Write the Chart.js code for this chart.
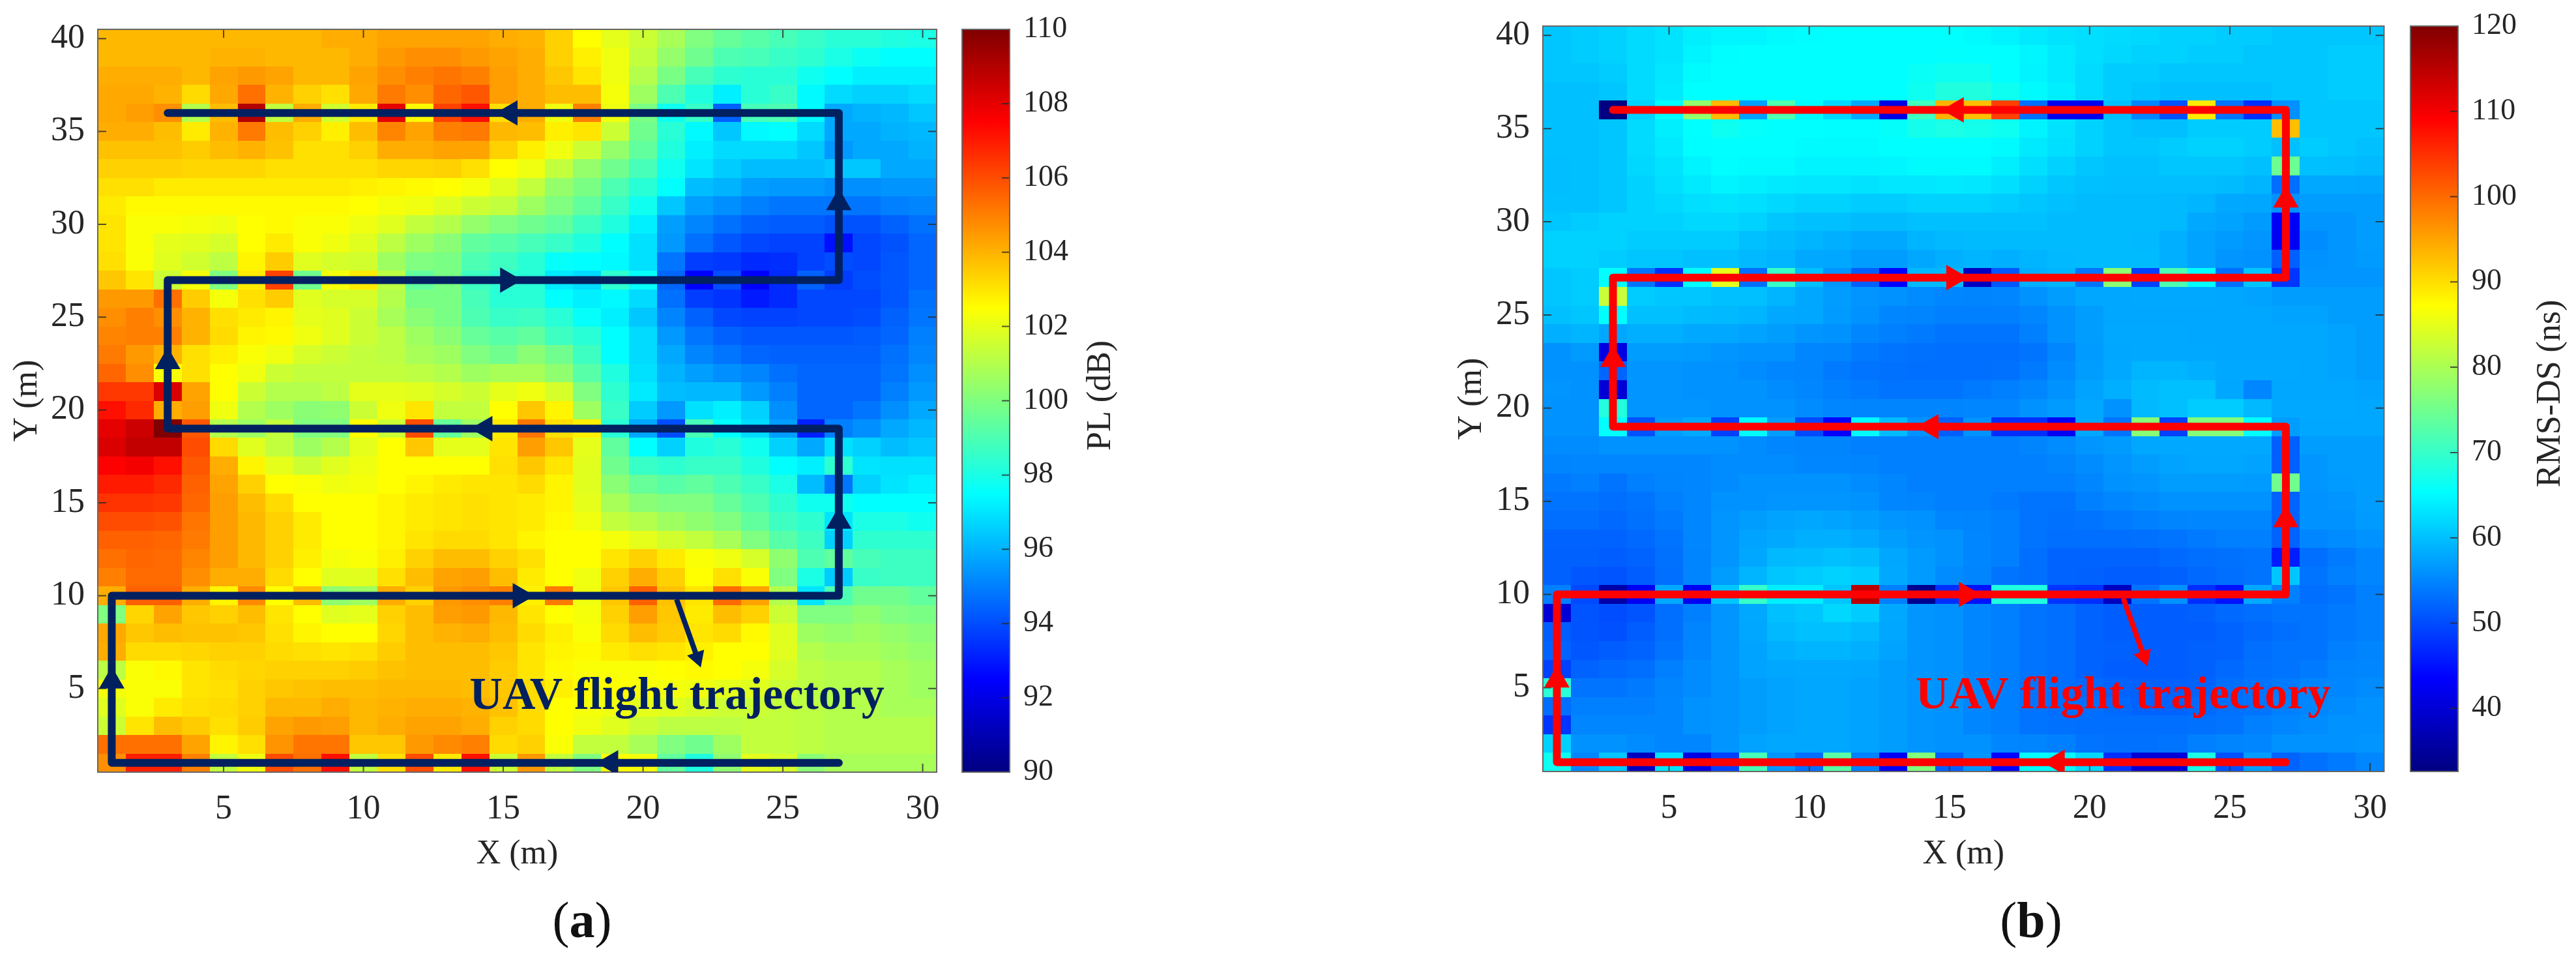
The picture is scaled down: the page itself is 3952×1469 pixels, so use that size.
<!DOCTYPE html>
<html>
<head>
<meta charset="utf-8">
<title>UAV flight trajectory maps</title>
<script src="https://cdn.jsdelivr.net/npm/chart.js@4"></script>
<style>
    html, body { margin: 0; padding: 0; background: #fff; overflow: hidden; }
    body { width: 3952px; height: 1469px; position: relative; }
    canvas { position: absolute; top: 0; }
    .tag { position: absolute; top: 1372px; font: 78px "Liberation Serif", serif; line-height: 1; color: #111; transform: translateX(-50%); }
</style>
</head>
<body>
<canvas id="heatA" width="1460" height="1469" style="left:0"></canvas>
<canvas id="barA" width="300" height="1469" style="left:1465px"></canvas>
<canvas id="heatB" width="1480" height="1469" style="left:2200px"></canvas>
<canvas id="barB" width="264" height="1469" style="left:3688px"></canvas>
<div class="tag" style="left:893px">(<b>a</b>)</div>
<div class="tag" style="left:3116px">(<b>b</b>)</div>
<script>
const xTicks = [5, 10, 15, 20, 25, 30];
const yTicks = [5, 10, 15, 20, 25, 30, 35, 40];
const plTicks = [90, 92, 94, 96, 98, 100, 102, 104, 106, 108, 110];
const dsTicks = [40, 50, 60, 70, 80, 90, 100, 110, 120];

// flight path and direction arrows, same for both maps
const pathX = [27, 1, 1, 27, 27, 3, 3, 27, 27, 3];
const pathY = [1, 1, 10, 10, 19, 19, 27, 27, 36, 36];
const arrowX = [18.85, 1, 15.6, 27, 14.35, 3, 15.15, 27, 15.25];
const arrowY = [1, 5.4, 10, 14, 19, 22.6, 27, 31.16, 36];
const arrowAngle = [270, 0, 90, 0, 270, 0, 90, 0, 270];
const pointerX = [21.2, 21.94];
const pointerY = [9.8, 6.67];

// Path loss (dB), first row is Y=40, last row is Y=1, columns X=1..30
const plRows = [
[103.9,103.9,103.9,103.9,103.9,103.9,103.9,103.9,104.1,104.1,104.3,104.3,104.3,104.3,104.1,104,103.4,102.5,102,101.5,100.8,100,99.5,99.2,98.9,98.6,98.3,98.3,98.1,98],
[103.9,103.9,103.9,103.9,104,104,103.9,103.9,103.9,104.1,104.5,104.7,104.7,104.5,104.3,104.1,103.4,102.8,102.2,101.3,100.4,99.7,99,98.9,98.6,98.4,98,97.7,97.5,97.5],
[104.1,104.1,104.1,103.9,104.3,104.5,104.3,103.9,103.9,104.3,104.7,105,105.2,105,104.4,104.1,103.6,103,102.2,101,99.9,98.9,98.4,98.3,98.3,97.8,97.5,97.2,97.2,97.2],
[104.2,104.2,104,103.2,104.2,105.3,104,103.4,103.1,104.2,105.1,104.7,105.5,105.8,104.4,104.1,103.8,103.8,102.3,100.6,99,98.1,97.2,98.3,98.6,97.4,96.8,96.6,96.6,96.8],
[104.2,104.4,104.7,101,103.8,109,101.3,104.1,101.6,102.9,108,102.6,106.2,107.2,103.1,104.1,102.2,105,102.2,99.9,97.8,98.6,94.4,98.9,99,97.4,95.8,96,96.1,96.4],
[104.1,104.1,103.8,102.9,104,105.1,103.8,103.4,102.8,103.8,104.9,104.3,105,105.1,103.9,103.8,102.8,103,101.5,99.7,98.3,97.4,96.4,97.4,97.5,96.8,95.8,95.8,96,96.1],
[103.7,103.7,103.7,103.5,103.8,104,103.7,103.1,103.1,103.4,104.1,104.1,104.3,104.3,103.4,102.8,102.2,101.5,100.4,99.4,98.1,97.2,96.8,96.8,96.8,96.4,95.5,95.8,95.8,96],
[103.4,103.4,103.4,103.3,103.3,103.3,103.1,103.1,103.1,103.1,103.3,103.3,103.4,103.1,102.5,102.2,101.3,100.4,99.7,98.9,97.8,97,96.5,96.2,96.2,96.2,96.4,96.4,95.8,95.8],
[103.1,103.1,102.9,102.9,102.9,102.9,102.9,102.9,102.9,102.8,102.7,102.6,102.5,102.3,101.9,101.3,100.4,99.9,99,98.3,97.5,96.2,96,95.6,95.5,95.5,95.3,95.3,95.4,95.4],
[102.9,102.6,102.6,102.6,102.6,102.6,102.6,102.6,102.6,102.5,102.3,102.2,101.9,101.5,101.3,100.6,100,99.4,98.6,97.8,96.4,95.6,95.3,95,94.8,94.8,94.8,94.8,95,95.1],
[103,102.4,102.4,102.3,102.2,102.5,102.6,102.4,102.4,102.2,101.9,101.3,101,100.4,100,99.7,99.4,98.7,98.1,97.2,95.6,95.1,94.7,94.4,94.3,94.3,94.1,94.1,94.4,94.7],
[103,102.4,102,101.9,101.7,102.5,102.9,102.4,102.2,101.9,101.2,100.6,100.2,99.4,99.2,98.9,98.6,98.1,97.5,96.9,95.5,94.7,94.2,93.9,93.8,93.8,92.8,93.9,94.1,94.5],
[103.1,102.4,101.9,101.6,101.2,102.7,103.5,101.9,101.7,101.6,100.6,100,99.9,99,98.7,98.3,97.6,97.5,97.4,96.9,94.8,93.7,93.6,93.3,93.4,93.8,94,93.9,94.2,94.5],
[103.6,103,101.5,102.3,100,102.9,106.2,99.7,102.3,102.9,101.2,99.4,99.9,98.7,98.4,98.3,97.1,96.8,98.4,97.6,94.5,92.5,94,92.5,93.3,94.4,93.7,94,94.2,94.5],
[104.5,104.5,105.3,103.5,102.3,103.1,103.5,101.9,101.7,101.7,101,99.9,99.9,98.9,98.3,98.3,97.5,97.2,97.4,96.8,94.7,93.7,93.5,93,93.3,93.9,93.9,93.9,94.2,94.7],
[104.7,105,104.7,104,103.1,102.9,102.7,102,101.9,101.5,100.8,100.2,99.9,99,98.6,98.7,98.3,97.6,97.2,96.4,95.1,94.4,93.9,93.8,93.8,93.9,93.9,94,94.4,94.8],
[104.9,105,105,104,103.2,102.7,102.6,102.2,101.9,101.5,101.2,100.6,100.2,99.5,99.2,99.4,98.7,98.3,97.5,96.8,95.5,94.8,94.4,94.2,94.2,94.2,94.2,94.3,94.5,95],
[105.1,104.5,104,103.1,102.8,102.4,102.2,101.7,101.5,101.3,101.2,100.8,100.6,100,99.7,100.2,99.7,98.7,97.5,96.8,95.8,95.1,94.8,94.5,94.4,94.4,94.4,94.4,94.7,95.1],
[105.5,104.7,102.4,103.1,102.5,102.2,101.5,101.3,101.3,101.3,101.3,101.2,101,100.6,100.8,100.8,100.3,99.2,98.1,96.9,96,95.6,95.3,95.1,94.7,94.5,94.5,94.5,94.8,95.3],
[106.4,106.4,108.2,104.3,102.5,101.5,101,101,101.2,102,102,101.9,101.7,101.5,102,102.2,101.7,100,98.4,97.1,96.2,96.1,96.1,95.5,95,94.5,94.5,94.5,95,95.5],
[107.2,106.7,104.1,104.4,102.2,101,100.6,100.2,100.3,101.5,102.2,103,101.3,101.3,102.5,103.6,102.7,100.6,98.6,96.5,95.5,96.9,97.2,96.6,95.3,94.5,94.5,94.8,95.3,95.8],
[108,108.5,110,105.8,101,100.6,101.3,100,100,102.5,101.5,106,99.5,100.6,102.9,105.2,103.1,102.8,98.3,95.8,94,98.9,97.5,96.8,95.6,93.1,95,95.3,95.8,96.1],
[108.2,108.7,108.7,106,103.2,101.9,101.3,100.6,101,102,102.5,103.6,102,102,103,104.4,103.6,102,99.4,97.5,96.6,98.1,98.3,97.8,96.6,95.8,96.9,96.6,96.2,96.4],
[107.5,107.7,107.2,105.8,104.1,102.7,102,101.5,101.9,102.2,102.5,102.5,102.5,102.5,103.1,103.6,103,101.9,99.7,98.6,98.4,98.6,98.6,98.1,97.5,97.2,98.4,97,96.9,96.9],
[107,107,106.7,105.6,104.3,103.4,102.5,102.4,102.2,102.3,102.5,102.7,102.9,103,103,103.2,102.7,101.9,100.2,99.5,99.2,99.4,99,98.6,98,96.2,94.8,96.6,97,97.2],
[106.5,106.5,106.4,105.5,104.4,103.8,103.2,102.5,102.5,102.5,102.7,102.9,103,103.1,103,102.9,102.7,102,100.8,100.2,100,100,99.5,99,98.4,97.8,97.8,97.5,97.5,97.5],
[106,106,105.9,105.2,104.4,103.9,103.4,102.9,102.5,102.5,102.7,102.9,103,103.1,103,102.9,102.6,102.2,101.3,101,100.6,100.3,100,99.4,98.7,98.4,97,98,98,97.8],
[105.6,105.6,105.5,105.1,104.4,103.9,103.4,102.9,102.5,102.5,102.7,103,103.2,103.2,103,102.7,102.5,102.5,102.3,102,101.6,101.3,100.8,100,99.2,98.7,96.6,98.4,98.4,98.4],
[105.3,105.5,105.4,104.9,104.4,103.9,103.4,102.8,102.3,102.4,102.8,103.4,103.8,103.8,103.4,103.1,102.5,102.5,103,103.4,102.9,102.4,102.2,101.7,100.3,99,99.4,98.9,98.7,98.7],
[105,105.4,105.4,104.7,104.1,104.1,103.2,102.5,101.9,101.9,103.1,103.8,104.3,104.4,103.8,102.9,102.5,102.2,103.4,104.1,103.4,102.5,103.1,102.4,100,98,96.5,98.6,98.7,98.7],
[104.1,105.6,105.6,104.1,102.7,104.8,102.5,103.8,100.3,100.6,104.1,103.4,104.5,104.7,105,102.8,105.1,102.2,103.6,105.6,103.7,103,105.4,104.3,101,97,99,99.7,99.7,99.4],
[100,103.3,104.3,103.6,103.4,103.8,103,102.5,101.9,102,103.4,103.8,104.4,104.5,103.9,103,102.5,102.3,103.4,104.4,103.6,102.9,103.8,103.4,101.5,100,100,100.3,100,99.9],
[104.2,103.6,103.8,103.7,103.7,103.6,103.1,102.7,102.5,102.5,103.3,103.8,104,104.1,103.8,103.2,102.8,102.4,103.2,103.8,103.5,103,103.2,102.6,101.9,100.6,100.4,100.6,100.4,100.2],
[104.1,103.2,103.2,103.3,103.4,103.4,103.2,103.1,103,103.1,103.5,103.8,103.8,103.8,103.6,103,102.7,102.6,102.9,103.1,103,102.8,102.5,102.5,101.9,101,100.8,100.8,100.6,100.4],
[101.2,102.4,102.6,103,103.2,103.3,103.4,103.4,103.4,103.5,103.7,103.8,103.8,103.8,103.5,103,102.6,102.4,102.4,102.4,102.5,102.6,102.5,102.3,101.7,101.2,101,101,100.8,100.6],
[102.3,102.4,102.4,103,103.1,103.4,103.6,103.7,103.8,103.8,103.9,103.9,103.9,103.8,103.6,103.2,102.8,102.6,102.5,102.4,102.3,102.2,102,101.9,101.5,101.2,101,101,100.8,100.6],
[101.9,102.4,102.9,103.1,103.2,103.4,103.9,103.9,104.1,103.9,104,104.1,104.1,104,103.7,103.2,102.5,102.3,102.2,102,101.9,101.7,101.5,101.5,101.3,101.2,101,101,100.8,100.8],
[101.5,103,103.8,103.5,103.1,103.5,104.3,104.5,104.4,103.9,104.1,104.3,104.3,104.1,103.4,103.2,102.5,102.2,101.9,101.5,101.2,101.2,101.2,101.3,101.3,101.2,101,101,101,101],
[105.3,105.3,105.3,104.3,102.7,103.1,104.6,105.2,105.2,103.6,103.6,104.5,104.8,105,103.2,103.4,102.4,101.3,101.3,100.8,100,99.7,100.6,101.3,101.3,101.2,101,101,101,101],
[104.7,106.9,106.9,105,101.3,102.2,106,105.3,107.2,101.3,103.1,106,102.9,107.2,101.5,104.5,101.3,100,102.5,102.3,99.4,98.1,100.3,102,101.7,100.2,100.8,100.8,100.8,100.8]
];

// RMS delay spread (ns), same layout as plRows
const dsRows = [
[60.5,61,61.5,62.3,63,64,64.6,64.6,65,65.2,65.4,65.4,65.4,65.4,65.4,65,64.4,63.6,63,62.6,62.3,62,61.5,61.5,61,61,60.5,60.5,60.5,60.5],
[60.5,61,61.5,62.3,63,64.4,65.2,65.4,65.4,65.4,65.4,65.4,65.4,65.4,65.5,65.4,65.4,64.6,63.6,62.6,62,61.5,61.5,61,61,60.5,60.5,60.5,61,61],
[60.5,60.5,61,62.3,63.3,65,65.4,65.4,65.4,65.4,65.4,65.4,65.4,66,66.5,66.5,65.4,64.4,63.6,62.3,61,61,60.5,60.5,60.5,60.5,60.5,60.5,61,61],
[60,60,60.5,62.3,63.6,65.4,65.4,65.4,65.4,65.4,65.4,65.4,65.4,66.5,68,68,66.5,65,64,62.3,61,60.5,60,60,60,60,60.5,60.5,61,61],
[60,60,32.6,61.5,65.4,78,93.2,57.2,72.2,65,62,58,41,70.9,93.7,92.7,103.6,53,42,42,60,55,50.5,89,53.5,47.5,55.9,60.5,60.5,60.5],
[60,60,60.5,62.3,64,65.4,66.5,65.8,65.4,65.4,65.2,65.2,65.7,67,67.6,67,66.5,64.4,63,61.5,60.5,60,60,61,61,61,92.7,60.5,60.5,60.5],
[60,60,60.5,62.3,63.6,65.2,65.4,65.4,65.4,65,65,65,65.4,65.4,65.4,65.4,65,63.6,62.6,61.5,60.5,60.5,61,61.5,61.5,61,60,61,60.5,60],
[59.8,60,60.5,62,63,64.4,65.2,65,65,64.4,64.4,64.4,64.6,65,65,65,64,62.6,61.5,60.5,60,60,60.5,60.5,60.5,60,74.6,60,59.8,59.4],
[59.8,60,60.5,61.5,62.6,63.6,64.4,64,63.6,63.3,63.3,63,63.3,63.3,63.6,63.3,62.6,61.5,60.5,60,59.8,59.8,59.8,59.8,59.6,59,53,58,58,57.8],
[60,60,60.5,61.5,62,62.6,63,62.6,62,61.5,61.5,61,61,61.5,61.5,61.5,61,60.5,60,59.6,59.6,59.6,59.4,59,58,57.8,56,57,57,57],
[60.5,61,61.5,61.5,61.5,62,62,61.5,60.5,60,60,59.6,59.6,60,60,60,60,60,59.6,59.6,59.6,59.6,59.4,58,57.5,56.8,43,56.3,56.3,57],
[61.5,61.5,61.5,61,61,61,61,60,59.6,59,58.5,58,58,59,59.4,59.6,59.6,59.6,59.6,59.6,59.6,59.4,58.5,57.5,56.8,56.3,42.5,55.5,56.3,57],
[61.5,61.5,61,60.5,60.5,60,60,59.4,59,58,57.8,57,57,57.8,58.5,59,58.5,59,59.4,59.6,59.6,59.6,58.5,57.5,56.3,56,51.7,56,56.3,56.8],
[60.5,61,65.4,53.5,47.5,65.4,85,53,70.2,60,56.3,51.7,43.5,59.4,59.4,38,51,58.5,59,53.5,77.5,49,72,65.4,53,60.5,48,56.3,56.3,56.3],
[60.5,61,82.5,61,60.5,60.5,60,60,59,57.8,57,56.3,56,55.5,55,54.9,55,56,57,57.8,57.8,58,58,58,57.8,57.5,57,57,57,57],
[60,60.5,65.4,60,60,59.6,59.4,59,58,57.8,56.8,56,55,54.9,54.5,54.5,54.5,55,56,57,57.8,57.8,57.8,57.8,57.8,57.8,57.5,57.5,57,57],
[58.5,59,57.8,58.5,58.5,58,58,57.5,57,56.3,56,55,54.5,54,53.5,53.5,53.5,54.5,56,57,58,58,58,57.8,57.8,57.8,57.8,57.8,57.5,57],
[56,56.8,41,57,57,56.8,56.3,56,56,55,54.9,54,53.5,53.2,53,53,53,53.5,55,56.8,57.8,58,58,58,57.8,57.8,57.8,57.8,57.5,57],
[56,56,52.2,56.3,56.3,56,56,55.5,55,54.9,54,53.5,53.2,53,53,53,53.2,54,55.5,57,58,59,59,58.5,58,58,58,57.8,57.5,57],
[56.3,56,40,56.3,56.3,56,56,56,55.5,55,54.5,54,53.5,53.5,53.5,54,54.5,55,56,57.5,58.5,59.6,60,60,57.8,55,57.8,57.8,57.8,57.5],
[56,56,68.3,56.3,56.3,56.3,56,56,56,55.5,55,54.9,54.9,54.9,54.9,55,55,56,56.8,57.8,56,59.4,60,61,61,59.4,58,58,58,57.8],
[56,56,65.4,50.5,57,58,49,65,57,49.8,43.5,65,59.6,56,51.7,56,47.5,47.5,42.5,57.8,53.5,77,49,76.8,76.8,65.4,57,57.8,57.8,57.8],
[55.5,55.5,56,56,56,56,56,55.5,55,54.9,54.9,54.5,54.5,54.5,54.5,54.5,54.5,54.9,55.5,56.3,56.8,57.8,58,58,58,58,51.7,57,57,57],
[54.9,55,55,55,55,55,55.5,55.5,55.5,55,55,54.9,54.5,54.5,54.5,54.5,54.5,54.5,54.9,55.5,56.3,57,57.5,57.8,57.8,57.5,51.7,56.3,57,57],
[54,54.5,53.5,54.5,54.9,55,55.5,56,56,56,56,55.5,55,54.5,54.5,54.5,54.5,54.5,54.5,55,56,56.3,57,57,57,56.8,75,56.3,56.8,57],
[53.5,53.5,53,53.5,54.5,55,56,56,56.3,56.3,56.3,56,55,54.9,54.5,54.5,54,53.5,53.5,54.5,55,55.5,56,56,56,56,52,56,56.3,57],
[53,53,52.5,53.2,54,55,56.3,57,57.5,57.8,57.5,57,56.3,56,55,54.9,54.5,53.5,53.2,53.5,54,54.5,54.9,55,55,55,52,56,56,56.8],
[52,52,52,52.5,53.5,55,56.3,57.5,58,58.5,58.5,58,57,56.3,56,55,54.5,53.5,53,53,53,53.2,53.5,54,54.5,54.5,52,55,55.5,56],
[51.8,51.8,51.5,52,53.2,54.9,56.3,57.8,59.4,59.6,60,59.6,57.8,56.8,56,55,54.5,53,52,52,52,52,52.5,53,53.2,53.5,46,53,54,55],
[51.8,51,50.7,51.5,53,54.9,57,59,60.5,61,61.5,61,58,56.8,55.5,54.9,53.5,53,52,51.8,51.5,51.5,51.8,52.5,53,53.5,60.5,53.5,54.5,55],
[54.5,49.8,36,42.5,58,42.5,60.5,70,64,64,60.5,115,54.5,34,47.5,45,68,68,48,47.5,38,53.5,56,47.5,45,58,54.5,53,53.5,54.5],
[40,50.7,50,50.7,53,54.5,56.3,58,60,60.5,62,61,58,56.3,56,55,54.5,53.5,53,52,51.5,51.5,51.5,51.8,52.5,53,53.5,53.5,54,54.5],
[51.5,50.7,50.4,51.5,53,54.9,56.3,57.8,59.4,60,60,59.4,57.8,56.3,56,55,54.5,53.5,53,52,51.5,51.5,51.5,51.5,52,52.5,53,53.5,54,54.5],
[52,51,51.5,52,53.5,55,56.3,57.5,58.5,59,59,58.5,57.5,56.3,56,55,54.5,53.5,53,52,51.8,51.5,51.5,51.8,52,53,53.5,53.5,54.5,54.9],
[49,52,52.5,53,54.5,55.5,56.3,57.5,57.8,58,58,57.8,57,56.3,56,55,54.5,53.5,53,52,51.5,51.5,51.5,51.8,52.5,53.2,53.5,54,54.9,55],
[69,53.5,53.5,54,54.9,55.5,56.3,57,57.5,57.8,57.8,57.5,57,56.3,56,55,54.5,53.5,53,52.5,52,51.8,51.8,52,53,53.5,54,54.9,55,55.5],
[53,54.5,54.5,54.5,55,56,56.3,57,57.5,57.8,57.8,57.5,57,56.3,56,55,54.5,53.5,53,53,52.5,52,52,52.5,53.2,53.5,54.5,55,55.5,56],
[48,55,55,55,55,56,56.3,57,57.5,57.8,57.8,57.5,57,56.3,56,55,54.5,53.5,53.2,53,53,53,53,53.2,53.5,54.5,55,55.5,56,56],
[61.5,56,56,55.5,55,55,56.3,57.5,57.8,57.8,57.8,57.5,57,56.3,56,56,55,54.9,54.5,53.5,53.2,53.2,53.5,54.5,54.9,55,56,56,56,56.3],
[66.5,55,60.5,38,63,41,49,71.5,56.3,53,73,54.5,42.5,76.5,51.7,56.3,43.5,65.4,65,62,47.5,40,40,67.6,50.5,57,52,53.2,54,55]
];

const FONT = '"Liberation Serif", serif';
const JET_STOPS = [[0, 0, 0, 128], [0.125, 0, 0, 255], [0.375, 0, 255, 255], [0.625, 255, 255, 0], [0.875, 255, 0, 0], [1, 128, 0, 0]];

// Same colour ramp as MATLAB jet
function jetColor(t) {
    t = Math.min(1, Math.max(0, t));
    for (let i = 1; i < JET_STOPS.length; i++) {
        let a = JET_STOPS[i - 1], b = JET_STOPS[i];
        if (t <= b[0]) {
            let f = (t - a[0]) / (b[0] - a[0]);
            return `rgb(${Math.round(a[1] + (b[1] - a[1]) * f)},${Math.round(a[2] + (b[2] - a[2]) * f)},${Math.round(a[3] + (b[3] - a[3]) * f)})`;
        }
    }
    return "rgb(128,0,0)";
}

function gridPoints(rows) {
    let points = [];
    rows.forEach((row, r) => row.forEach((v, c) => points.push({ x: c + 1, y: rows.length - r, v: v })));
    return points;
}

function drawFrame(ctx, area) {
    ctx.strokeStyle = "#666666";
    ctx.lineWidth = 2;
    ctx.strokeRect(area.left, area.top, area.right - area.left, area.bottom - area.top);
}

// Stops Chart.js from shrinking the plot to make room for the end tick labels
function noMargins(s) {
    s.paddingLeft = 0;
    s.paddingRight = 0;
    s.paddingTop = 0;
    s.paddingBottom = 0;
}

// Heat map with trajectory on top
function heatChart(id, rows, cMin, cMax, color, yWidth, rightPad, topPad, bottomH, yTitleOffset) {
    const heatCells = {
        id: "heatCells",
        beforeDatasetsDraw(chart) {
            let ctx = chart.ctx, sx = chart.scales.x, sy = chart.scales.y, area = chart.chartArea;
            ctx.save();
            chart.data.datasets[0].data.forEach(p => {
                let x0 = Math.round(sx.getPixelForValue(p.x - 0.5)), x1 = Math.round(sx.getPixelForValue(p.x + 0.5));
                let y0 = Math.round(sy.getPixelForValue(p.y + 0.5)), y1 = Math.round(sy.getPixelForValue(p.y - 0.5));
                ctx.fillStyle = jetColor((p.v - cMin) / (cMax - cMin));
                ctx.fillRect(x0, y0, x1 - x0, y1 - y0);
            });
            // MATLAB style inward ticks on all four sides
            ctx.strokeStyle = "rgba(40,40,40,0.8)";
            ctx.lineWidth = 2;
            ctx.beginPath();
            sx.ticks.forEach(t => {
                let x = sx.getPixelForValue(t.value);
                ctx.moveTo(x, area.top); ctx.lineTo(x, area.top + 13);
                ctx.moveTo(x, area.bottom); ctx.lineTo(x, area.bottom - 13);
            });
            sy.ticks.forEach(t => {
                let y = sy.getPixelForValue(t.value);
                ctx.moveTo(area.left, y); ctx.lineTo(area.left + 13, y);
                ctx.moveTo(area.right, y); ctx.lineTo(area.right - 13, y);
            });
            ctx.stroke();
            drawFrame(ctx, area);
            ctx.restore();
        },
        afterDatasetsDraw(chart) {
            let ctx = chart.ctx;
            ctx.save();
            ctx.fillStyle = color;
            ctx.font = `bold 70px ${FONT}`;
            ctx.textBaseline = "alphabetic";
            ctx.fillText("UAV flight trajectory", chart.scales.x.getPixelForValue(13.8), chart.scales.y.getPixelForValue(3.9));
            ctx.restore();
        }
    };

    return new Chart(document.getElementById(id), {
        type: "scatter",
        data: {
            datasets: [
                { label: "cells", data: gridPoints(rows), pointRadius: 0 },
                {
                    label: "trajectory",
                    data: pathX.map((x, i) => ({ x: x, y: pathY[i] })),
                    showLine: true, tension: 0, borderColor: color, borderWidth: 12,
                    borderJoinStyle: "round", borderCapStyle: "round", pointRadius: 0
                },
                {
                    label: "direction",
                    data: arrowX.map((x, i) => ({ x: x, y: arrowY[i] })),
                    pointStyle: "triangle", pointRadius: 22.5, pointRotation: arrowAngle,
                    backgroundColor: color, borderWidth: 0
                },
                {
                    label: "pointer",
                    data: pointerX.map((x, i) => ({ x: x, y: pointerY[i] })),
                    showLine: true, tension: 0, borderColor: color, borderWidth: 8,
                    pointStyle: "triangle", pointRadius: [0, 16], pointRotation: 160.6,
                    backgroundColor: color, pointBorderWidth: 0
                }
            ]
        },
        options: {
            responsive: false,
            animation: false,
            events: [],
            layout: { padding: { top: topPad, right: rightPad, left: 0, bottom: 0 } },
            plugins: { legend: { display: false }, tooltip: { enabled: false } },
            scales: {
                x: {
                    type: "linear", min: 0.5, max: 30.5,
                    grid: { display: false, drawTicks: false }, border: { display: false },
                    afterBuildTicks: s => { s.ticks = xTicks.map(v => ({ value: v })); },
                    afterFit: s => { s.height = bottomH; noMargins(s); },
                    ticks: { autoSkip: false, maxRotation: 0, padding: 26, color: "#262626", font: { family: FONT, size: 52 } },
                    title: { display: true, text: "X (m)", color: "#262626", font: { family: FONT, size: 52 }, padding: { top: 0, bottom: 127 } }
                },
                y: {
                    type: "linear", min: 0.5, max: 40.5,
                    grid: { display: false, drawTicks: false }, border: { display: false },
                    afterBuildTicks: s => { s.ticks = yTicks.map(v => ({ value: v })); },
                    afterFit: s => { s.width = yWidth; noMargins(s); },
                    ticks: { autoSkip: false, padding: 20, color: "#262626", font: { family: FONT, size: 52 } },
                    title: { display: true, text: "Y (m)", color: "#262626", font: { family: FONT, size: 52 }, padding: { top: yTitleOffset, bottom: 0 } }
                }
            }
        },
        plugins: [heatCells]
    });
}

// Colour bar is one floating bar filled with the jet ramp
function colorBar(id, cMin, cMax, ticks, title, leftPad, rightW, topPad, bottomH, titleX, fontSize) {
    const barDecor = {
        id: "barDecor",
        afterDatasetsDraw(chart) {
            let ctx = chart.ctx, area = chart.chartArea, sy = chart.scales.y;
            ctx.save();
            ctx.strokeStyle = "rgba(40,40,40,0.8)";
            ctx.lineWidth = 2;
            ctx.beginPath();
            sy.ticks.forEach(t => {
                let y = sy.getPixelForValue(t.value);
                ctx.moveTo(area.right, y); ctx.lineTo(area.right - 12, y);
            });
            ctx.stroke();
            drawFrame(ctx, area);
            ctx.translate(titleX, (area.top + area.bottom) / 2 - 8);
            ctx.rotate(-Math.PI / 2);
            ctx.fillStyle = "#262626";
            ctx.font = `52px ${FONT}`;
            ctx.textAlign = "center";
            ctx.textBaseline = "alphabetic";
            ctx.fillText(title, 0, 0);
            ctx.restore();
        }
    };

    return new Chart(document.getElementById(id), {
        type: "bar",
        data: {
            labels: [""],
            datasets: [{
                data: [[cMin, cMax]],
                barPercentage: 1,
                categoryPercentage: 1,
                backgroundColor: function (c) {
                    let area = c.chart.chartArea;
                    if (!area) return "#00ffff";
                    let g = c.chart.ctx.createLinearGradient(0, area.bottom, 0, area.top);
                    JET_STOPS.forEach(s => g.addColorStop(s[0], `rgb(${s[1]},${s[2]},${s[3]})`));
                    return g;
                }
            }]
        },
        options: {
            responsive: false,
            animation: false,
            events: [],
            layout: { padding: { top: topPad, left: leftPad, right: 0, bottom: 0 } },
            plugins: { legend: { display: false }, tooltip: { enabled: false } },
            scales: {
                x: {
                    grid: { display: false, drawTicks: false }, border: { display: false },
                    ticks: { display: false },
                    afterFit: s => { s.height = bottomH; noMargins(s); }
                },
                y: {
                    position: "right", min: cMin, max: cMax,
                    grid: { display: false, drawTicks: false }, border: { display: false },
                    afterBuildTicks: s => { s.ticks = ticks.map(v => ({ value: v })); },
                    afterFit: s => { s.width = rightW; noMargins(s); },
                    ticks: { autoSkip: false, padding: 21, color: "#262626", font: { family: FONT, size: fontSize } }
                }
            }
        },
        plugins: [barDecor]
    });
}

heatChart("heatA", plRows, 90, 110, "#002060", 150, 23, 45, 285, 11);
colorBar("barA", 90, 110, plTicks, "PL (dB)", 11, 216, 45, 285, 238, 46);
heatChart("heatB", dsRows, 32.6, 120, "#ff0000", 167, 21, 40, 286, 27);
colorBar("barB", 32.6, 120, dsTicks, "RMS-DS (ns)", 10, 181, 40, 286, 239, 46);
</script>
</body>
</html>
